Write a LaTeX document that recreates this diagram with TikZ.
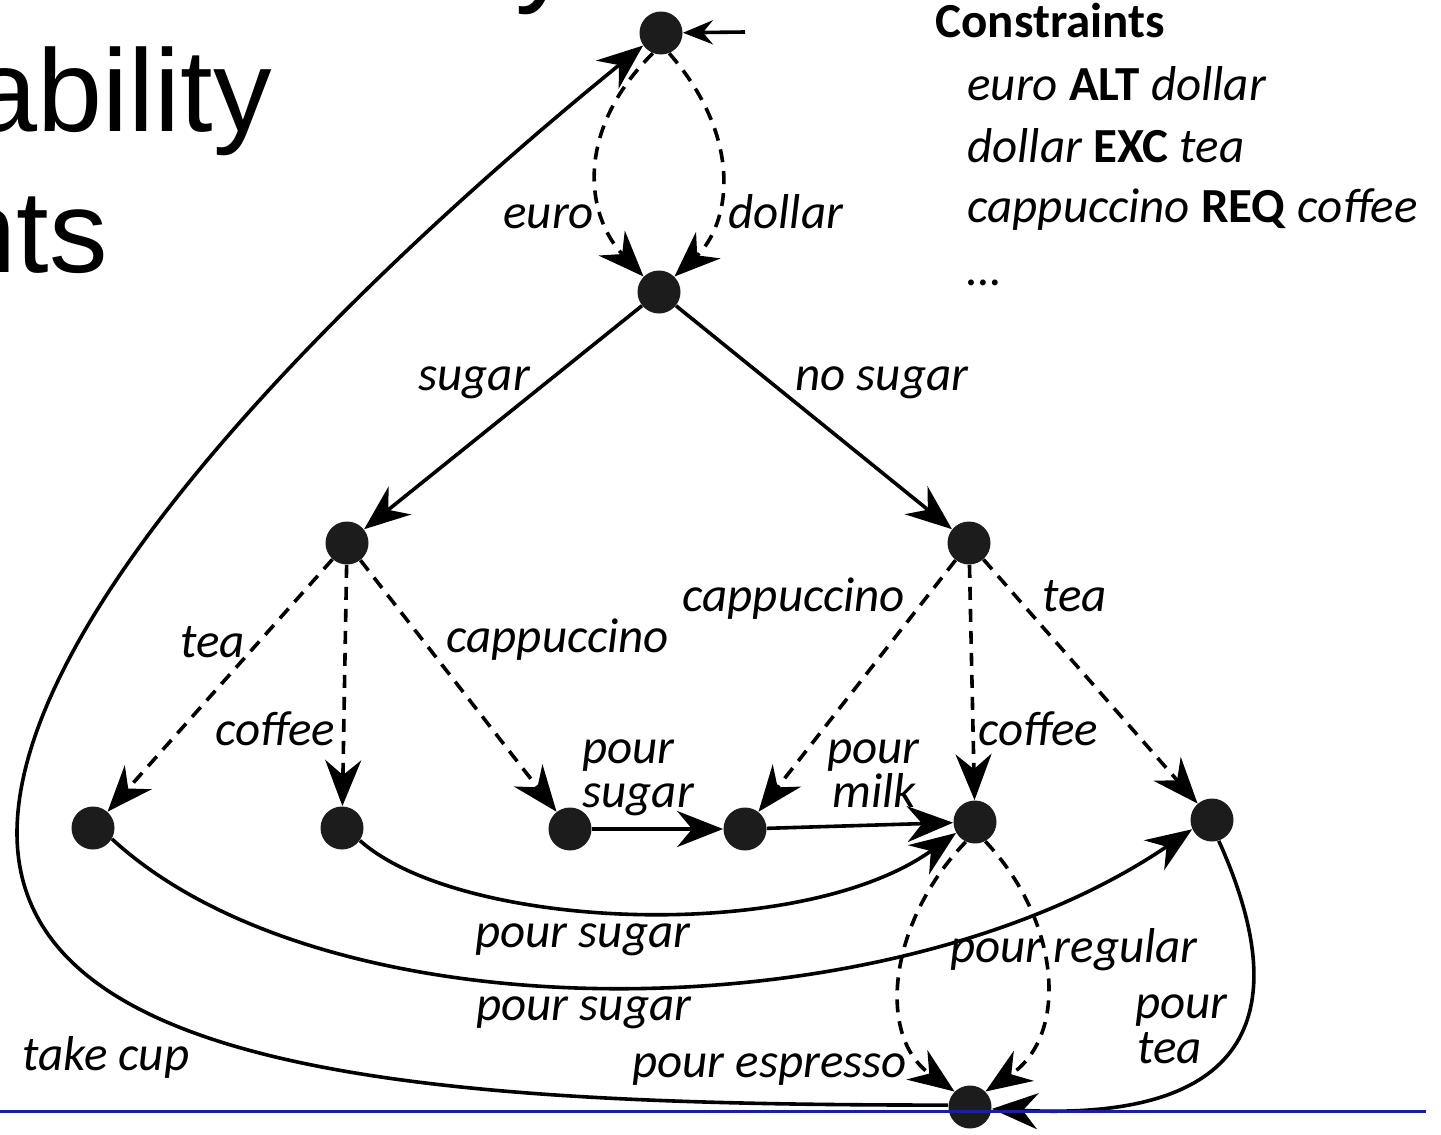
\documentclass[tikz,border=0pt]{standalone}
\usepackage{fontspec}
\setmainfont{Carlito}
\newfontfamily\titlefont{Liberation Sans}
\usetikzlibrary{arrows.meta}
\definecolor{rulecol}{RGB}{18,36,150}
\definecolor{dotcol}{RGB}{28,28,28}
\begin{document}
\begin{tikzpicture}[x=0.5pt,y=-0.5pt,
  dot/.style={circle,fill=dotcol,minimum size=21.5pt,inner sep=0pt},
  lbl/.style={font=\fontsize{24.5}{29}\selectfont\itshape,inner sep=0pt,anchor=base west},
  cons/.style={font=\fontsize{24.5}{29}\selectfont,inner sep=0pt,anchor=base west},
  ttl/.style={font=\titlefont\fontsize{58.5}{70}\selectfont,inner sep=0pt},
  trans/.style={line width=1.8pt,-{Stealth[length=23pt,width=18pt,inset=7.5pt]}},
  var/.style={trans,dash pattern=on 6.5pt off 4.5pt}]
\useasboundingbox (0,0) rectangle (1441,1135);

% slide title fragments
\node[ttl,anchor=base west] (t0) at (515,-10) {y};
\node[ttl,anchor=base east] (t1) at (272,131) {ability};
\node[ttl,anchor=base east] (t2) at (108,272) {nts};

% states
\node[dot] (n0) at (661,33) {};
\node[dot] (n1) at (659,292) {};
\node[dot] (nL) at (347,543) {};
\node[dot] (nR) at (969,543) {};
\node[dot] (a) at (93,828) {};
\node[dot] (b) at (342,828) {};
\node[dot] (c) at (570,829) {};
\node[dot] (d) at (745,829) {};
\node[dot] (e) at (975,822) {};
\node[dot] (f) at (1212,820) {};
\node[dot] (g) at (970,1107) {};
\coordinate (start) at (745,32);

% transitions
\draw[line width=1.8pt,-{Stealth[length=15pt,width=12pt,inset=5pt]}] (start) -- (n0);
\draw[var] (n0.-112) .. controls (575,130) and (585,215) .. (n1.135);
\draw[var] (n0.-68) .. controls (745,140) and (730,225) .. (n1.45);
\draw[trans] (n1) -- (nL);
\draw[trans] (n1) -- (nR);
\draw[var] (nL) -- (a);
\draw[var] (nL) -- (b);
\draw[var] (nL) -- (c);
\draw[var] (nR) -- (d);
\draw[var] (nR) -- (e);
\draw[var] (nR) -- (f);
\draw[trans] (c) -- (d);
\draw[trans] (d) -- (e);
\draw[trans] (b.-35) .. controls (460,930) and (800,945) .. (e.-150);
\draw[trans] (a.-30) .. controls (330,1040) and (890,1035) .. (f.-155);
\draw[var] (e.-115) .. controls (890,920) and (875,1035) .. (g.135);
\draw[var] (e.-62) .. controls (1060,920) and (1070,1035) .. (g.45);
\draw[trans] (f.-72) .. controls (1295,1010) and (1255,1122) .. (g.-5);
\draw[trans] (g.175) .. controls (450,1105) and (17,1080) .. (17,833)
   .. controls (17,620) and (330,300) .. (n0.-145);

% labels
\node[lbl] (leuro) at (503,228) {euro};
\node[lbl] (ldollar) at (728,228) {dollar};
\node[lbl] (lsugar) at (418,390) {sugar};
\node[lbl] (lnosugar) at (795,390) {no sugar};
\node[lbl] (lteaL) at (180,657) {tea};
\node[lbl] (lcoffeeL) at (215,745) {coffee};
\node[lbl] (lcapL) at (446,652) {cappuccino};
\node[lbl] (lcapR) at (682,611) {cappuccino};
\node[lbl] (lteaR) at (1042,611) {tea};
\node[lbl] (lcoffeeR) at (978,745) {coffee};
\node[lbl] (lps1) at (582,763) {pour};
\node[lbl] (lps2) at (582,807) {sugar};
\node[lbl] (lpm1) at (827,763) {pour};
\node[lbl] (lpm2) at (832,807) {milk};
\node[lbl] (lpsb) at (475,947) {pour sugar};
\node[lbl] (lpsa) at (476,1020) {pour sugar};
\node[lbl] (lpr) at (950,962) {pour regular};
\node[lbl] (lpt1) at (1135,1018) {pour};
\node[lbl] (lpt2) at (1137,1063) {tea};
\node[lbl] (lpe) at (632,1077) {pour espresso};
\node[lbl] (ltake) at (22,1070) {take cup};

% constraints
\node[cons] (cH) at (935,38) {\textbf{Constraints}};
\node[cons] (c1) at (967,100) {\textit{euro} \textbf{ALT} \textit{dollar}};
\node[cons] (c2) at (967,162) {\textit{dollar} \textbf{EXC} \textit{tea}};
\node[cons] (c3) at (967,222) {\textit{cappuccino} \textbf{REQ} \textit{coffee}};
\node[cons] (c4) at (967,285) {\textit{\dots}};

% slide rule
\draw[rulecol,line width=1.5pt] (0,1111) -- (1426,1111);
\end{tikzpicture}
\end{document}
